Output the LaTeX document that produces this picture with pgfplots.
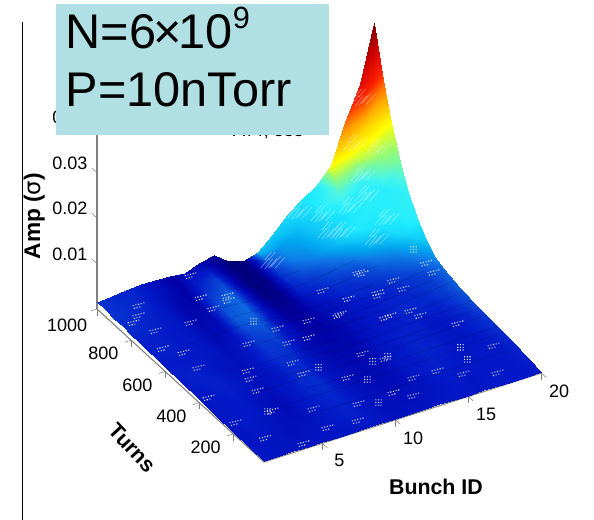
\documentclass[border=0pt]{standalone}
\usepackage{fontspec}
\setmainfont{Liberation Sans}
\newfontfamily\dejavu{DejaVu Sans}
\usepackage{pgfplots}
\pgfplotsset{compat=1.18}
\pgfplotsset{colormap={lit}{
rgb255(0)=(0,0,100) rgb255(10)=(0,0,165) rgb255(18)=(3,25,200) rgb255(26)=(10,75,215)
rgb255(32)=(15,120,230) rgb255(38)=(0,170,240) rgb255(46)=(30,235,255) rgb255(50)=(70,245,235)
rgb255(56)=(140,250,130) rgb255(62)=(255,255,0) rgb255(72)=(255,160,0) rgb255(82)=(255,30,0)
rgb255(92)=(200,0,0) rgb255(100)=(120,0,0)}}
\newcommand\dt[2]{\pgfpathrectangle{\pgfpoint{#1pt}{#2pt}}{\pgfpoint{.8pt}{.8pt}}}
\pgfdeclareplotmark{spkrow}{\dt{-4}{-1}\dt{-2}{-.5}\dt{0}{0}\dt{2}{.5}\dt{4}{1}\dt{-3}{-3}\dt{-1}{-2.5}\dt{1}{-2}\pgfusepathqfill}
\pgfdeclareplotmark{spkblock}{\dt{-2}{-2}\dt{0}{-2}\dt{2}{-2}\dt{-2}{0}\dt{0}{0}\dt{2}{0}\dt{-2}{2}\dt{0}{2}\dt{2}{2}\pgfusepathqfill}
\pgfdeclareplotmark{spkstreak}{\pgfsetlinewidth{.5pt}\pgfsetstrokecolor{white}
\pgfpathmoveto{\pgfpoint{-9pt}{-6pt}}\pgfpathlineto{\pgfpoint{-3pt}{1pt}}
\pgfpathmoveto{\pgfpoint{-6pt}{-7pt}}\pgfpathlineto{\pgfpoint{0pt}{1pt}}
\pgfpathmoveto{\pgfpoint{-3pt}{-6pt}}\pgfpathlineto{\pgfpoint{3pt}{1pt}}
\pgfpathmoveto{\pgfpoint{-1pt}{-5pt}}\pgfpathlineto{\pgfpoint{6pt}{3pt}}
\pgfpathmoveto{\pgfpoint{2pt}{-6pt}}\pgfpathlineto{\pgfpoint{9pt}{2pt}}
\pgfpathmoveto{\pgfpoint{-6pt}{0pt}}\pgfpathlineto{\pgfpoint{-1pt}{6pt}}
\pgfpathmoveto{\pgfpoint{-3pt}{0pt}}\pgfpathlineto{\pgfpoint{2pt}{6pt}}
\pgfusepathqstroke}
\begin{document}
\begin{tikzpicture}
\useasboundingbox (0,0) rectangle (445.5pt,390pt);
\begin{axis}[
  at={(198pt,43.5pt)}, anchor=origin,
  x={(10.95pt,3.51pt)}, y={(-.1278pt,.1171pt)}, z={(0pt,3412.5pt)},
  xmin=1,xmax=20,ymin=20,ymax=1000,zmin=0,zmax=.0435,
  clip=false, 3d box=background, tickpos=left,
  axis line style={draw=none},
  tick style={gray,thin},
  z tick style={draw=none},
  tick align=outside,
  major tick length=5pt,
  xtick={5,10,15,20}, ytick={200,400,600,800,1000},
  ztick={.01,.02,.03,.04}, zticklabels={0.01,0.02,0.03,0.04},
  /pgf/number format/assume math mode=true,
  /pgf/number format/1000 sep={},
  tick label style={font=\fontsize{13.5}{14}\selectfont},
  xticklabel style={xshift=5pt},
  yticklabel style={xshift=-6.5pt,yshift=4.5pt},
  xlabel={\textbf{Bunch ID}}, ylabel={\textbf{Turns}}, zlabel={\textbf{Amp (}{\dejavu σ}\textbf{)}},
  xlabel style={at={(axis cs:8.34,-360,0)},anchor=center,font=\fontsize{16}{17}\selectfont},
  ylabel style={at={(axis cs:-4.92,287,0)},anchor=center,rotate=-47,sloped=false,font=\fontsize{16}{17}\selectfont},
  zlabel style={at={(axis cs:-3.3,1000,.0248)},anchor=center,font=\fontsize{17}{18}\selectfont},
  colormap name=lit, point meta min=0, point meta max=1,
]
\addplot3[gray,line width=.8pt,forget plot] coordinates {(1,20,0)(20,20,0)};
\addplot3[gray,line width=.8pt,forget plot] coordinates {(1,20,0)(1,1000,0)};
\addplot3[gray,line width=.8pt,forget plot] coordinates {(1,1000,0)(1,1000,.0435)};
\addplot3[gray,thin,forget plot] coordinates {(1,1000,.01)(1,1030,.01)};
\addplot3[gray,thin,forget plot] coordinates {(1,1000,.02)(1,1030,.02)};
\addplot3[gray,thin,forget plot] coordinates {(1,1000,.03)(1,1030,.03)};
\addplot3[gray,thin,forget plot] coordinates {(1,1000,.04)(1,1030,.04)};
\addplot3[surf,shader=interp,z buffer=sort,mesh/cols=20,point meta=explicit,forget plot]
 table[x index=0,y index=1,z index=2,meta index=3,row sep=\\] {
1 20 .0002 .17\\2 20 .0002 .17\\3 20 .0003 .16\\4 20 .0003 .17\\5 20 .0002 .17\\6 20 .0002 .17\\7 20 .0003 .17\\8 20 .0003 .17\\9 20 .0003 .17\\10 20 .0002 .16\\11 20 .0002 .16\\12 20 .0003 .16\\13 20 .0003 .17\\14 20 .0002 .18\\15 20 .0002 .18\\16 20 .0003 .17\\17 20 .0003 .18\\18 20 .0002 .18\\19 20 .0002 .18\\20 20 .0002 .18\\
1 100 .0003 .17\\2 100 .0004 .17\\3 100 .0005 .16\\4 100 .0005 .15\\5 100 .0004 .16\\6 100 .0004 .17\\7 100 .0005 .18\\8 100 .0006 .19\\9 100 .0005 .17\\10 100 .0004 .15\\11 100 .0003 .15\\12 100 .0004 .15\\13 100 .0005 .16\\14 100 .0005 .17\\15 100 .0004 .18\\16 100 .0005 .17\\17 100 .0005 .18\\18 100 .0005 .18\\19 100 .0005 .18\\20 100 .0006 .19\\
1 200 .0004 .16\\2 200 .0006 .18\\3 200 .0007 .17\\4 200 .0007 .15\\5 200 .0006 .14\\6 200 .0006 .17\\7 200 .0008 .19\\8 200 .0009 .20\\9 200 .0007 .17\\10 200 .0005 .15\\11 200 .0004 .14\\12 200 .0005 .14\\13 200 .0006 .16\\14 200 .0007 .18\\15 200 .0007 .19\\16 200 .0008 .18\\17 200 .0008 .17\\18 200 .0008 .18\\19 200 .0009 .18\\20 200 .0011 .20\\
1 300 .0005 .17\\2 300 .0007 .18\\3 300 .0009 .18\\4 300 .0009 .15\\5 300 .0008 .14\\6 300 .0007 .17\\7 300 .0010 .20\\8 300 .0011 .21\\9 300 .0009 .16\\10 300 .0006 .14\\11 300 .0005 .13\\12 300 .0006 .14\\13 300 .0008 .17\\14 300 .0009 .18\\15 300 .0009 .20\\16 300 .0010 .19\\17 300 .0010 .17\\18 300 .0011 .17\\19 300 .0012 .19\\20 300 .0014 .22\\
1 400 .0007 .17\\2 400 .0009 .18\\3 400 .0011 .19\\4 400 .0011 .17\\5 400 .0009 .15\\6 400 .0008 .16\\7 400 .0012 .20\\8 400 .0014 .20\\9 400 .0011 .15\\10 400 .0007 .13\\11 400 .0005 .12\\12 400 .0007 .13\\13 400 .0009 .16\\14 400 .0010 .18\\15 400 .0011 .19\\16 400 .0012 .19\\17 400 .0013 .17\\18 400 .0013 .18\\19 400 .0015 .20\\20 400 .0018 .25\\
1 500 .0008 .18\\2 500 .0011 .19\\3 500 .0013 .18\\4 500 .0012 .16\\5 500 .0010 .15\\6 500 .0009 .17\\7 500 .0014 .22\\8 500 .0017 .22\\9 500 .0013 .15\\10 500 .0008 .12\\11 500 .0006 .11\\12 500 .0008 .12\\13 500 .0010 .15\\14 500 .0011 .17\\15 500 .0012 .18\\16 500 .0013 .20\\17 500 .0014 .20\\18 500 .0016 .20\\19 500 .0019 .23\\20 500 .0023 .28\\
1 600 .0010 .18\\2 600 .0012 .18\\3 600 .0015 .18\\4 600 .0014 .17\\5 600 .0011 .14\\6 600 .0010 .16\\7 600 .0016 .24\\8 600 .0020 .26\\9 600 .0015 .16\\10 600 .0009 .11\\11 600 .0006 .10\\12 600 .0008 .13\\13 600 .0010 .15\\14 600 .0011 .17\\15 600 .0012 .18\\16 600 .0013 .19\\17 600 .0015 .20\\18 600 .0021 .22\\19 600 .0025 .24\\20 600 .0031 .30\\
1 650 .0011 .18\\2 650 .0013 .19\\3 650 .0015 .18\\4 650 .0015 .17\\5 650 .0012 .13\\6 650 .0010 .15\\7 650 .0017 .26\\8 650 .0022 .28\\9 650 .0016 .16\\10 650 .0009 .09\\11 650 .0006 .09\\12 650 .0008 .14\\13 650 .0010 .16\\14 650 .0011 .19\\15 650 .0012 .20\\16 650 .0013 .20\\17 650 .0016 .22\\18 650 .0024 .25\\19 650 .0030 .28\\20 650 .0042 .35\\
1 700 .0011 .19\\2 700 .0014 .19\\3 700 .0016 .18\\4 700 .0016 .17\\5 700 .0013 .13\\6 700 .0011 .14\\7 700 .0017 .28\\8 700 .0023 .30\\9 700 .0018 .16\\10 700 .0009 .08\\11 700 .0006 .08\\12 700 .0008 .15\\13 700 .0010 .18\\14 700 .0012 .20\\15 700 .0014 .21\\16 700 .0016 .23\\17 700 .0021 .26\\18 700 .0033 .30\\19 700 .0043 .35\\20 700 .0060 .42\\
1 750 .0012 .19\\2 750 .0014 .19\\3 750 .0017 .18\\4 750 .0017 .17\\5 750 .0014 .12\\6 750 .0012 .13\\7 750 .0017 .27\\8 750 .0024 .30\\9 750 .0020 .14\\10 750 .0010 .06\\11 750 .0005 .07\\12 750 .0008 .18\\13 750 .0011 .20\\14 750 .0015 .23\\15 750 .0020 .25\\16 750 .0025 .27\\17 750 .0032 .32\\18 750 .0049 .38\\19 750 .0065 .44\\20 750 .0090 .47\\
1 800 .0012 .20\\2 800 .0015 .20\\3 800 .0018 .19\\4 800 .0018 .17\\5 800 .0015 .12\\6 800 .0013 .12\\7 800 .0017 .26\\8 800 .0025 .30\\9 800 .0023 .12\\10 800 .0010 .05\\11 800 .0005 .06\\12 800 .0008 .20\\13 800 .0012 .23\\14 800 .0022 .27\\15 800 .0029 .31\\16 800 .0035 .35\\17 800 .0046 .40\\18 800 .0071 .45\\19 800 .0093 .47\\20 800 .0130 .48\\
1 850 .0013 .21\\2 850 .0016 .20\\3 850 .0018 .19\\4 850 .0019 .17\\5 850 .0017 .12\\6 850 .0014 .11\\7 850 .0017 .23\\8 850 .0026 .27\\9 850 .0027 .10\\10 850 .0010 .04\\11 850 .0004 .06\\12 850 .0008 .22\\13 850 .0017 .28\\14 850 .0030 .33\\15 850 .0040 .38\\16 850 .0049 .42\\17 850 .0063 .46\\18 850 .0098 .47\\19 850 .0129 .47\\20 850 .0180 .54\\
1 900 .0013 .22\\2 900 .0016 .21\\3 900 .0019 .20\\4 900 .0020 .17\\5 900 .0019 .13\\6 900 .0016 .10\\7 900 .0017 .20\\8 900 .0028 .24\\9 900 .0030 .08\\10 900 .0011 .04\\11 900 .0004 .05\\12 900 .0009 .24\\13 900 .0023 .33\\14 900 .0042 .37\\15 900 .0055 .41\\16 900 .0068 .44\\17 900 .0088 .46\\18 900 .0136 .48\\19 900 .0179 .56\\20 900 .0250 .62\\
1 950 .0014 .22\\2 950 .0017 .21\\3 950 .0020 .20\\4 950 .0022 .18\\5 950 .0021 .14\\6 950 .0018 .10\\7 950 .0017 .17\\8 950 .0029 .18\\9 950 .0033 .07\\10 950 .0012 .03\\11 950 .0003 .05\\12 950 .0010 .27\\13 950 .0030 .36\\14 950 .0055 .40\\15 950 .0071 .43\\16 950 .0088 .47\\17 950 .0114 .52\\18 950 .0176 .60\\19 950 .0233 .66\\20 950 .0325 .78\\
1 1000 .0015 .22\\2 1000 .0018 .20\\3 1000 .0021 .20\\4 1000 .0023 .18\\5 1000 .0023 .14\\6 1000 .0020 .10\\7 1000 .0017 .15\\8 1000 .0030 .12\\9 1000 .0036 .07\\10 1000 .0012 .02\\11 1000 .0002 .03\\12 1000 .0012 .40\\13 1000 .0040 .42\\14 1000 .0073 .44\\15 1000 .0095 .45\\16 1000 .0117 .47\\17 1000 .0152 .62\\18 1000 .0235 .76\\19 1000 .0310 .88\\20 1000 .0433 1.00\\
};
% faint dark streaks across the surface, along the bunch direction
\addplot3[black,opacity=.22,line width=.3pt,forget plot] coordinates {(6,160,.0007)(10,160,.0005)(14,160,.0006)(19,160,.0009)};
\addplot3[black,opacity=.22,line width=.3pt,forget plot] coordinates {(5,240,.0007)(10,245,.0005)(15,240,.0008)(19,245,.0011)};
\addplot3[black,opacity=.22,line width=.3pt,forget plot] coordinates {(7,285,.0010)(11,280,.0005)(15,285,.0009)(20,280,.0013)};
\addplot3[black,opacity=.22,line width=.3pt,forget plot] coordinates {(4,340,.0010)(10,345,.0006)(14,340,.0010)(20,345,.0016)};
\addplot3[black,opacity=.22,line width=.3pt,forget plot] coordinates {(6,380,.0008)(11,385,.0005)(16,380,.0012)(20,385,.0017)};
\addplot3[black,opacity=.22,line width=.3pt,forget plot] coordinates {(8,430,.0015)(11,425,.0005)(16,430,.0012)(20,425,.0019)};
\addplot3[black,opacity=.22,line width=.3pt,forget plot] coordinates {(5,470,.0010)(10,475,.0008)(15,470,.0012)(20,475,.0022)};
\addplot3[black,opacity=.22,line width=.3pt,forget plot] coordinates {(9,530,.0014)(12,535,.0008)(16,530,.0013)(20,535,.0026)};
\addplot3[black,opacity=.22,line width=.3pt,forget plot] coordinates {(6,570,.0010)(11,575,.0006)(15,570,.0012)(19,575,.0024)};
\addplot3[black,opacity=.22,line width=.3pt,forget plot] coordinates {(8,620,.0021)(11,625,.0006)(15,620,.0012)(19,625,.0027)};
\addplot3[black,opacity=.22,line width=.3pt,forget plot] coordinates {(3,660,.0015)(7,665,.0017)(11,660,.0006)(16,665,.0014)};
\addplot3[black,opacity=.22,line width=.3pt,forget plot] coordinates {(7,720,.0017)(10,725,.0009)(13,720,.0010)(17,725,.0026)};
\addplot3[black,opacity=.22,line width=.3pt,forget plot] coordinates {(7,780,.0017)(10,775,.0010)(13,780,.0012)(16,775,.0030)};
\addplot3[black,opacity=.22,line width=.3pt,forget plot] coordinates {(8,840,.0026)(10,845,.0010)(13,840,.0016)};
% pale specks left in the surface
\addplot3[only marks,mark=spkrow,color=white,opacity=.9,forget plot] coordinates {
(8.12,848,.001)(7.9,823,.001)(6.69,808,.001)(6.65,879,.001)(7.36,999,.001)(3.06,936,.001)(2.5,888,.001)(4.75,776,.001)(2.53,791,.001)(1.9,695,.001)(2.74,644,.001)(2.66,550,.001)(4.99,461,.001)(4.69,418,.001)(4.39,351,.001)(4.04,233,.001)(7.66,362,.001)(7.71,430,.001)(8.62,532,.001)(6.53,588,.001)(8.83,615,.001)(10.85,606,.001)(12.64,584,.001)(9.91,525,.001)(14.1,649,.001)(16.19,747,.001)(13.22,727,.001)(15.78,618,.001)(14.91,503,.001)(11.76,367,.001)(12.64,308,.001)(8.79,136,.001)(20,700,.001)(19.85,644,.001)(16.05,758,.001)(17.37,667,.001)(17.44,613,.001)(15.9,634,.001)(12.85,590,.001)(15.28,505,.001)(16.57,498,.001)(16.8,460,.001)(18.24,365,.001)(18.84,205,.001)(13.01,175,.001)(14.62,172,.001)(15.77,118,.001)(17.55,71,.001)(9.67,276,.001)(11.17,135,.001)(1.5,233,.001)(3.78,30,.001)(2.13,114,.001)(7.8,56,.001)(5.88,69,.001)(1.86,862,.001)(1.51,392,.001)(6.22,180,.001)(12.01,90,.001)
};
\addplot3[only marks,mark=spkblock,color=white,opacity=.9,forget plot] coordinates {
(7.95,680,.001)(8.7,363,.001)(11.77,309,.001)(9.8,105,.001)(20.05,778,.001)(17.01,242,.001)(16.69,174,.001)(10.51,231,.001)(3.67,231,.001)(12.81,310,.001)
};
\addplot3[only marks,mark=spkstreak,color=white,opacity=.4,forget plot] coordinates {
(18.64,950,.0302)(19.66,950,.0182)(18.1,950,.0207)(18.05,900,.0158)(17.75,850,.0134)(15.3,900,.0098)(16.1,850,.0070)(17.84,800,.0054)(19.1,850,.0068)(14.3,950,.0098)(12.1,920,.0021)(17.2,900,.0096)(15.2,850,.0079)
};
\end{axis}
\draw[black,line width=.75pt] (16.5pt,0) -- (16.5pt,373.5pt);
\node[font=\fontsize{13.5}{14}\selectfont,anchor=base,inner sep=0pt] at (201.4pt,287.25pt) {ATT, 335};
\fill[fill={rgb,255:red,176;green,224;blue,228}] (42pt,288.75pt) rectangle (247pt,387pt);
\node[font=\fontsize{36.5}{38}\selectfont,anchor=base west,inner sep=0pt] at (49pt,353.5pt) {N=6\kern-2pt×\kern-2.5pt10\raisebox{.42em}{\fontsize{23}{24}\selectfont 9}};
\node[font=\fontsize{36.5}{38}\selectfont,anchor=base west,inner sep=0pt] at (49pt,310pt) {P=10nTorr};
\end{tikzpicture}
\end{document}
